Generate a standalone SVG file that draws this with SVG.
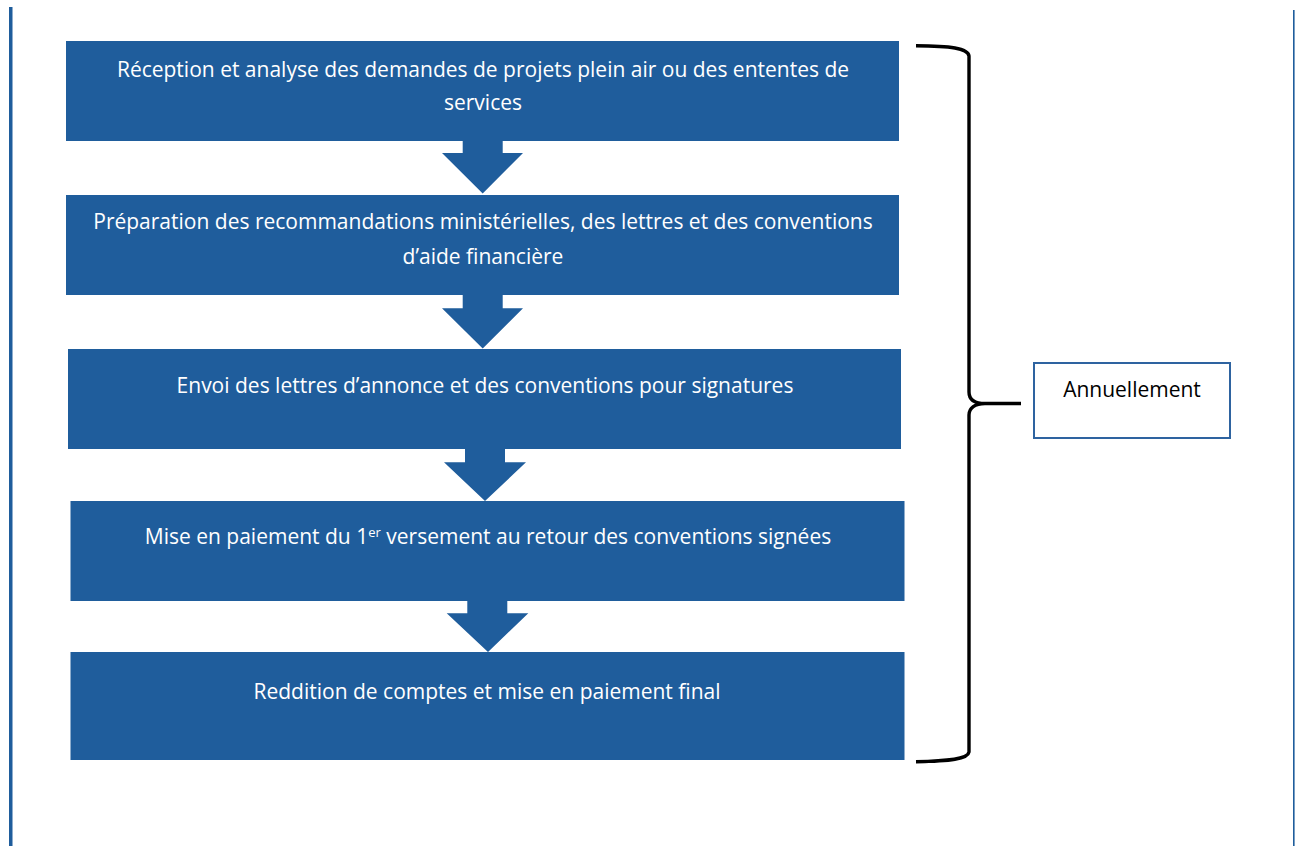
<svg xmlns="http://www.w3.org/2000/svg" width="1295" height="846" viewBox="0 0 1295 846">
<style>
.box{fill:#1F5D9C}
.arr{fill:#1F5D9C}
.t{font-family:"Open Sans","Liberation Sans",sans-serif;font-size:21px;fill:#FFFFFF;text-anchor:middle}
.k{font-family:"Open Sans","Liberation Sans",sans-serif;font-size:21px;fill:#000000;text-anchor:middle}
.brace{fill:none;stroke:#000;stroke-width:3.4;stroke-linejoin:round}
</style>
<rect x="0" y="0" width="1295" height="846" fill="#FFFFFF"/>
<rect x="9" y="7" width="3.5" height="839" fill="#1F5D9C"/>
<rect x="1293" y="10" width="1.6" height="836" fill="#1F5D9C"/>
<g id="connectors">
<polygon class="arr" points="462.7,141 502.7,141 502.7,153 523,153 482.7,193.5 442,153 462.7,153"/>
<polygon class="arr" points="462.7,295 502.7,295 502.7,308.3 523,308.3 482.7,348.5 442,308.3 462.7,308.3"/>
<polygon class="arr" points="465,449 505,449 505,462.3 526,462.3 485,501 444,462.3 465,462.3"/>
<polygon class="arr" points="467.3,601 507.3,601 507.3,613.3 528.3,613.3 488,652 446.7,613.3 467.3,613.3"/>
<path class="brace" d="M916,45.7 C950,46 968,48 969,56 L969,392 C969,400 975,403.5 985,403.5 L1021,403.5 M985,403.5 C975,403.5 969,408 969,415 L969,752 C968,759 950,761 916,761.7"/>
</g>
<g id="n1">
<rect class="box" x="66" y="41" width="833" height="100"/>
<text class="t" x="483" y="77">Réception et analyse des demandes de projets plein air ou des ententes de</text>
<text class="t" x="483" y="110">services</text>
</g>
<g id="n2">
<rect class="box" x="66" y="195" width="833" height="100"/>
<text class="t" x="483" y="229">Préparation des recommandations ministérielles, des lettres et des conventions</text>
<text class="t" x="483" y="264">d’aide financière</text>
</g>
<g id="n3">
<rect class="box" x="68" y="349" width="833" height="100"/>
<text class="t" x="485" y="393">Envoi des lettres d’annonce et des conventions pour signatures</text>
</g>
<g id="n4">
<rect class="box" x="70.5" y="501" width="834" height="100"/>
<text class="t" x="488" y="544">Mise en paiement du 1<tspan font-size="13" dy="-7">er</tspan><tspan dy="7"> versement au retour des conventions signées</tspan></text>
</g>
<g id="n5">
<rect class="box" x="70.5" y="652" width="834" height="108"/>
<text class="t" x="487" y="699">Reddition de comptes et mise en paiement final</text>
</g>
<g id="n6">
<rect x="1034" y="363" width="196" height="75" fill="#FFFFFF" stroke="#2E63A0" stroke-width="2"/>
<text class="k" x="1132" y="397">Annuellement</text>
</g>
</svg>
